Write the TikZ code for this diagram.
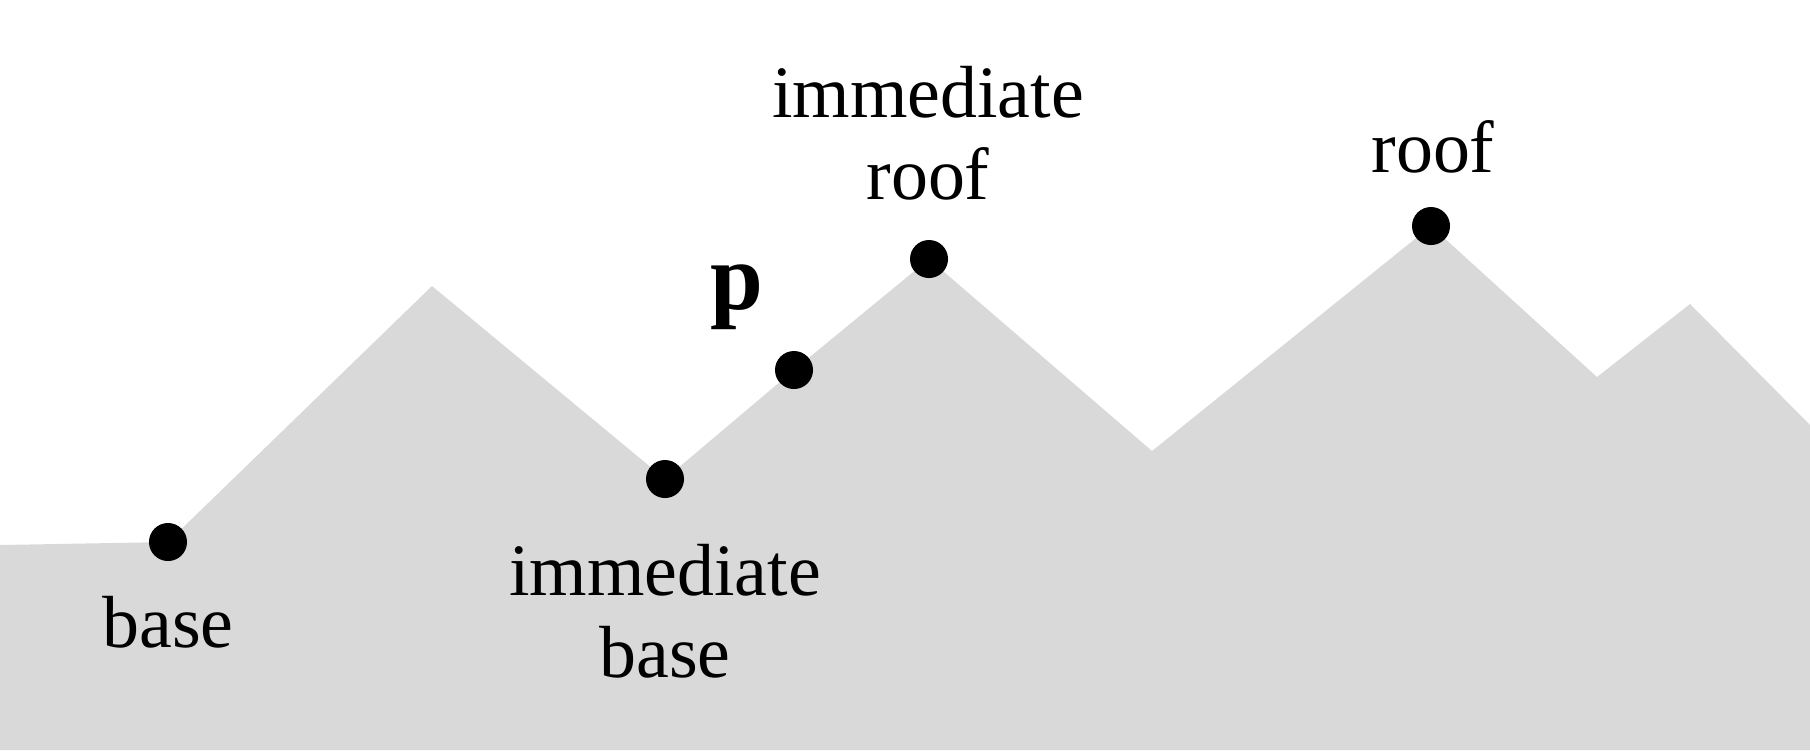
\documentclass[tikz,border=0pt]{standalone}
\usepackage{fontspec}
\setmainfont{Liberation Serif}
\definecolor{ink}{HTML}{000000}
\definecolor{hill}{HTML}{D9D9D9}
\tikzset{
  ridge/.style={fill=hill, draw=none},
  dot/.style={circle, fill=ink, draw=none, inner sep=0pt, minimum size=0.38cm},
  lbl/.style={font=\fontsize{21}{23.3}\selectfont, text=ink, align=center, inner sep=0pt, anchor=base},
  plbl/.style={font=\fontsize{27}{30}\selectfont\bfseries, text=ink, inner sep=0pt, anchor=base},
}

\begin{document}
\begin{tikzpicture}[x=0.01cm, y=-0.01cm]
  \useasboundingbox (0,0) rectangle (1810,750);
  % ---- ridge line ----
  \coordinate (w0)  at (0,545);
  \coordinate (bs)  at (168,542);
  \coordinate (k1)  at (432,286);
  \coordinate (ib)  at (665,479);
  \coordinate (pp)  at (794,370);
  \coordinate (ir)  at (929,259);
  \coordinate (v1)  at (1152,451);
  \coordinate (rf)  at (1431,226);
  \coordinate (v2)  at (1597,377);
  \coordinate (k2)  at (1690,304);
  \coordinate (e0)  at (1810,425);
  \coordinate (e1)  at (1810,750);
  \coordinate (w1)  at (0,750);
  \fill[ridge] (w0) -- (bs) -- (k1) -- (ib) -- (pp) -- (ir) -- (v1) -- (rf)
               -- (v2) -- (k2) -- (e0) -- (e1) -- (w1) -- cycle;
  % ---- points ----
  \node[dot] (base)  at (bs) {};
  \node[dot] (ibase) at (ib) {};
  \node[dot] (p)     at (pp) {};
  \node[dot] (iroof) at (ir) {};
  \node[dot] (roof)  at (rf) {};
  % ---- labels (base = last line) ----
  \node[lbl]  (baselbl)  at (168,647)  {base};
  \node[lbl]  (ibaselbl) at (665,677)  {immediate\\base};
  \node[plbl] (plbl)     at (737,309)  {p};
  \node[lbl]  (iroollbl) at (928,199)  {immediate\\roof};
  \node[lbl]  (rooflbl)  at (1433,172) {roof};
\end{tikzpicture}
\end{document}
